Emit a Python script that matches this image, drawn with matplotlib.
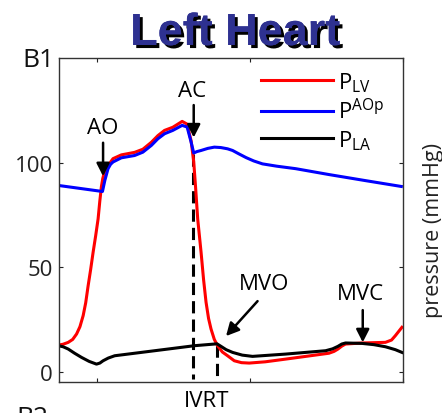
import matplotlib
matplotlib.use("Agg")
import matplotlib.pyplot as plt
import matplotlib.patheffects as pe

plt.rcParams['font.family'] = ['Open Sans', 'DejaVu Sans']
plt.rcParams['mathtext.default'] = 'regular'

# ---- data (time in s, pressure in mmHg) ----
t_aop = [0.1496, 0.2074, 0.2105, 0.2147, 0.2180, 0.2212, 0.2321, 0.2494, 0.2602,
         0.2712, 0.2798, 0.2885, 0.2993, 0.3115, 0.3180, 0.3232, 0.3266, 0.3310,
         0.3362, 0.3450, 0.3535, 0.3620, 0.3708, 0.3774, 0.3850, 0.3950, 0.4050,
         0.4164, 0.4350, 0.4599, 0.5032, 0.5509, 0.5978]
p_aop = [89.1, 86.2, 91.5, 97.1, 99.2, 100.3, 102.3, 103.4, 105.0,
         108.2, 111.4, 113.8, 115.4, 117.8, 117.0, 109.8, 104.6, 105.3,
         105.8, 106.8, 107.4, 107.2, 106.6, 105.8, 104.3, 102.4, 100.8,
         99.4, 98.3, 97.1, 94.3, 91.4, 88.6]

t_lv = [0.1496, 0.1560, 0.1627, 0.1685, 0.1736, 0.1780, 0.1822, 0.1855, 0.1887,
        0.1920, 0.1952, 0.1985, 0.2017, 0.2039, 0.2060, 0.2078, 0.2100,
        0.2147, 0.2212, 0.2321, 0.2494, 0.2602, 0.2712, 0.2798, 0.2885, 0.2993,
        0.3115, 0.3180, 0.3232, 0.3266, 0.3290, 0.3318, 0.3362, 0.3395, 0.3427,
        0.3460, 0.3492, 0.3535, 0.3578, 0.3640, 0.3708, 0.3796, 0.3890, 0.3991,
        0.4200, 0.4468, 0.5032, 0.5100, 0.5150, 0.5200, 0.5249, 0.5465,
        0.5770, 0.5850, 0.5900, 0.5986]
p_lv = [12.8, 13.2, 14.1, 15.5, 18.1, 21.6, 26.9, 33.0, 41.2,
        49.0, 57.2, 65.0, 73.1, 81.5, 88.5, 92.4, 95.5,
        98.6, 101.9, 103.7, 104.9, 106.4, 109.7, 112.9, 115.4, 116.9,
        119.7, 118.4, 110.4, 100.4, 88.4, 73.1, 57.2, 44.0, 33.3,
        25.5, 20.5, 15.5, 12.5, 9.5, 7.7, 5.3, 4.4, 4.2,
        4.8, 6.1, 8.9, 9.8, 10.9, 12.3, 13.3, 13.8,
        14.1, 15.2, 17.3, 21.3]

t_la = [0.1496, 0.1560, 0.1627, 0.1710, 0.1801, 0.1900, 0.1996, 0.2040, 0.2082,
        0.2150, 0.2234, 0.2755, 0.3275, 0.3570, 0.3622, 0.3690, 0.3774, 0.3900,
        0.4034, 0.4468, 0.4989, 0.5080, 0.5150, 0.5200, 0.5249, 0.5465, 0.5620,
        0.5770, 0.5900, 0.5986]
p_la = [12.5, 12.0, 10.9, 8.9, 6.9, 5.0, 3.7, 4.2, 5.3,
        6.6, 7.7, 10.1, 12.5, 13.4, 12.2, 10.6, 9.3, 8.0,
        7.4, 8.5, 10.1, 11.0, 12.2, 13.3, 13.8, 13.6, 13.0,
        12.0, 10.6, 9.3]

labels = ['P$_{LV}$', 'P$^{AOp}$', 'P$_{LA}$']
colors = ['#FF0000', '#0000FF', '#000000']

ivrt_start = 0.3253
ivrt_end = 0.3570

fig = plt.figure(figsize=(4.42, 4.14), dpi=100)
ax = fig.add_axes([0.1324, 0.0741, 0.7794, 0.7834])

lw = 2.2
ax.plot(t_lv, p_lv, color=colors[0], lw=lw, label=labels[0], solid_joinstyle='round')
ax.plot(t_aop, p_aop, color=colors[1], lw=lw, label=labels[1], solid_joinstyle='round')
ax.plot(t_la, p_la, color=colors[2], lw=lw, label=labels[2], solid_joinstyle='round')

ax.plot([ivrt_start, ivrt_start], [104, -3.5], color='k', lw=2.2, dashes=(4, 2), zorder=1)
ax.plot([ivrt_end, ivrt_end], [13, -3], color='k', lw=2.2, dashes=(4, 2), zorder=1)

ax.set_xlim(0.15, 0.6)
ax.set_ylim(-5, 150)
ax.set_xticks([0.2, 0.4, 0.6])
ax.set_xticklabels([])
ax.set_yticks([0, 50, 100])
ax.tick_params(direction='in', top=True, right=True, length=3, width=0.8,
               labelsize=16, colors='#222222', pad=4)
for s in ax.spines.values():
    s.set_color('#333333')
    s.set_linewidth(1.0)

# annotations
akw = dict(arrowstyle='-|>,head_length=0.55,head_width=0.28', color='k', lw=1.8,
           mutation_scale=14, shrinkA=0, shrinkB=0)
fs = 16
ax.text(0.2078, 116.7, 'AO', ha='center', va='center', fontsize=fs)
ax.annotate('', xy=(0.2082, 93.5), xytext=(0.2082, 109.5), arrowprops=akw)
ax.text(0.325, 134.5, 'AC', ha='center', va='center', fontsize=fs)
ax.annotate('', xy=(0.3266, 112), xytext=(0.3266, 127.5), arrowprops=akw)
ax.text(0.4186, 42.3, 'MVO', ha='center', va='center', fontsize=fs)
ax.annotate('', xy=(0.3688, 17.1), xytext=(0.410, 33.8), arrowprops=akw)
ax.text(0.5444, 37.4, 'MVC', ha='center', va='center', fontsize=fs)
ax.annotate('', xy=(0.5474, 14.1), xytext=(0.5474, 29.5), arrowprops=akw)
ax.text(0.3438, -13.8, 'IVRT', ha='center', va='center', fontsize=fs, clip_on=False)

leg = ax.legend(loc='upper left', bbox_to_anchor=(0.553, 1.0), frameon=False,
                fontsize=16, handlelength=3.25, handletextpad=0.2,
                borderpad=0.0, borderaxespad=0.55, labelspacing=0.2)

fig.text(433 / 442, (414 - 230) / 414, 'pressure (mmHg)', rotation=90,
         ha='center', va='center', fontsize=15.5, color='#222222')
fig.text(0.051, 0.839, 'B1', ha='left', va='baseline', fontsize=19, color='#111111')
fig.text(0.038, -0.0266, 'B2', ha='left', va='baseline', fontsize=19, color='#111111')

fig.text(235 / 442, (414 - 46) / 414, 'Left Heart', ha='center', va='baseline',
         fontsize=32.4, fontweight='bold', family='Liberation Sans', color='#2E3191',
         path_effects=[pe.withSimplePatchShadow(offset=(2.2, -2.2), shadow_rgbFace='black', alpha=1.0),
                       pe.Normal()])

fig.savefig('out.png', dpi=100)
